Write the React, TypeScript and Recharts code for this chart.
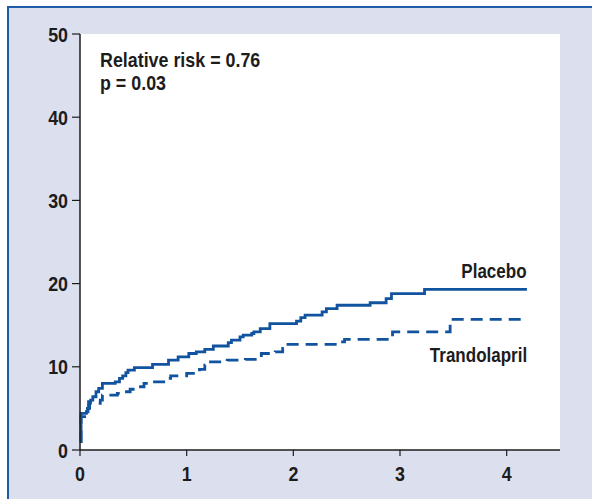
import { LineChart, Line, XAxis, YAxis, ReferenceArea } from "recharts";

// Cumulative event rate (%) by year
const PLACEBO_YEARS = [
  0, 0.01, 0.06, 0.075, 0.08, 0.1, 0.12, 0.15, 0.175, 0.21, 0.33, 0.37, 0.4, 0.43, 0.45, 0.51,
  0.68, 0.83, 0.92, 1.02, 1.09, 1.17, 1.25, 1.39, 1.42, 1.5, 1.53, 1.61, 1.63, 1.69, 1.78,
  2.03, 2.07, 2.11, 2.27, 2.31, 2.41, 2.72, 2.87, 2.92, 3.23, 4.19,
];
const PLACEBO_RATE = [
  1.0, 4.4, 4.6, 5.0, 5.8, 6.0, 6.4, 7.0, 7.4, 8.0, 8.2, 8.6, 8.9, 9.3, 9.6, 9.9,
  10.3, 10.8, 11.2, 11.6, 11.8, 12.1, 12.5, 12.9, 13.2, 13.6, 13.8, 14.0, 14.2, 14.6, 15.2,
  15.5, 15.9, 16.2, 16.6, 17.0, 17.4, 17.7, 18.2, 18.8, 19.3, 19.3,
];

const TRANDOLAPRIL_YEARS = [
  0, 0.01, 0.07, 0.09, 0.19, 0.21, 0.35, 0.4, 0.47, 0.55, 0.6, 0.66, 0.8, 0.85, 1.0, 1.12,
  1.17, 1.21, 1.38, 1.55, 1.7, 1.83, 1.9, 1.95, 2.42, 2.48, 2.93, 3.47, 4.19,
];
const TRANDOLAPRIL_RATE = [
  1.0, 4.0, 5.0, 5.6, 6.0, 6.6, 6.8, 7.0, 7.3, 7.6, 8.0, 8.2, 8.6, 8.9, 9.2, 9.7,
  10.2, 10.6, 10.8, 10.9, 11.6, 11.8, 12.2, 12.7, 13.0, 13.3, 14.2, 15.7, 15.7,
];

const X_TICKS = [0, 1, 2, 3, 4];
const Y_TICKS = [0, 10, 20, 30, 40, 50];

const placeboData = PLACEBO_YEARS.map((t, i) => ({ t, rate: PLACEBO_RATE[i] }));
const trandolaprilData = TRANDOLAPRIL_YEARS.map((t, i) => ({ t, rate: TRANDOLAPRIL_RATE[i] }));

// no condensed Helvetica available, so squeeze Liberation Sans Bold horizontally
const FONT = "'Liberation Sans', Arial, sans-serif";
const INK = "#1c1c1c";
const LINE_BLUE = "#11539e";
const BORDER_BLUE = "#1d5ba6";

function NarrowTick({ x, y, payload, textAnchor, dy }: any) {
  return (
    <g transform={`translate(${x},${y})`}>
      <text
        transform="scale(0.85,1)"
        textAnchor={textAnchor}
        dy={dy}
        fontSize={21}
        fontWeight={700}
        fill={INK}
        fontFamily={FONT}
      >
        {payload.value}
      </text>
    </g>
  );
}

const labelStyle = {
  position: "absolute" as const,
  fontFamily: FONT,
  fontWeight: 700,
  fontSize: 21,
  lineHeight: "21px",
  color: INK,
  whiteSpace: "nowrap" as const,
};

export default function App() {
  return (
    <div
      style={{
        position: "absolute",
        left: 0,
        top: 0,
        width: 592,
        height: 499,
        background: "#dcdfee",
        overflow: "hidden",
      }}
    >
      <div style={{ position: "absolute", left: 0, top: 0, width: 592, height: 6, background: "#fff" }} />
      <div style={{ position: "absolute", left: 0, top: 0, width: 7, height: 499, background: "#fff" }} />
      <div style={{ position: "absolute", left: 7, top: 6, width: 585, height: 2, background: BORDER_BLUE }} />
      <div style={{ position: "absolute", left: 7, top: 6, width: 2, height: 493, background: BORDER_BLUE }} />
      <div style={{ position: "absolute", left: 0, top: 0 }}>
        <LineChart width={592} height={499} margin={{ top: 34, right: 32, left: 0, bottom: 0 }}>
          <ReferenceArea x1={0} x2={4.5} y1={0} y2={50} fill="#ffffff" fillOpacity={1} stroke="none" />
          <XAxis
            type="number"
            dataKey="t"
            domain={[0, 4.5]}
            ticks={X_TICKS}
            height={49}
            tick={(p: any) => <NarrowTick {...p} dy="0.71em" />}
            tickSize={6}
            tickMargin={10}
            axisLine={{ stroke: INK, strokeWidth: 1.5 }}
            tickLine={{ stroke: INK, strokeWidth: 1.2 }}
            allowDuplicatedCategory={false}
          />
          <YAxis
            type="number"
            domain={[0, 50]}
            ticks={Y_TICKS}
            width={80}
            tick={(p: any) => <NarrowTick {...p} dy="0.36em" />}
            tickSize={8}
            tickMargin={4}
            axisLine={{ stroke: INK, strokeWidth: 1.5 }}
            tickLine={{ stroke: INK, strokeWidth: 1.2 }}
          />
          <Line
            data={placeboData}
            dataKey="rate"
            type="stepAfter"
            stroke={LINE_BLUE}
            strokeWidth={2.8}
            dot={false}
            isAnimationActive={false}
          />
          <Line
            data={trandolaprilData}
            dataKey="rate"
            type="stepAfter"
            stroke={LINE_BLUE}
            strokeWidth={2.8}
            strokeDasharray="12 7"
            dot={false}
            isAnimationActive={false}
          />
        </LineChart>
      </div>
      <div style={{ ...labelStyle, left: 100, top: 49, transform: "scaleX(0.85)", transformOrigin: "left" }}>
        Relative risk = 0.76
      </div>
      <div style={{ ...labelStyle, left: 100, top: 72, transform: "scaleX(0.85)", transformOrigin: "left" }}>
        p = 0.03
      </div>
      <div style={{ ...labelStyle, right: 65, top: 260, transform: "scaleX(0.81)", transformOrigin: "right" }}>
        Placebo
      </div>
      <div style={{ ...labelStyle, right: 65, top: 344, transform: "scaleX(0.81)", transformOrigin: "right" }}>
        Trandolapril
      </div>
    </div>
  );
}
